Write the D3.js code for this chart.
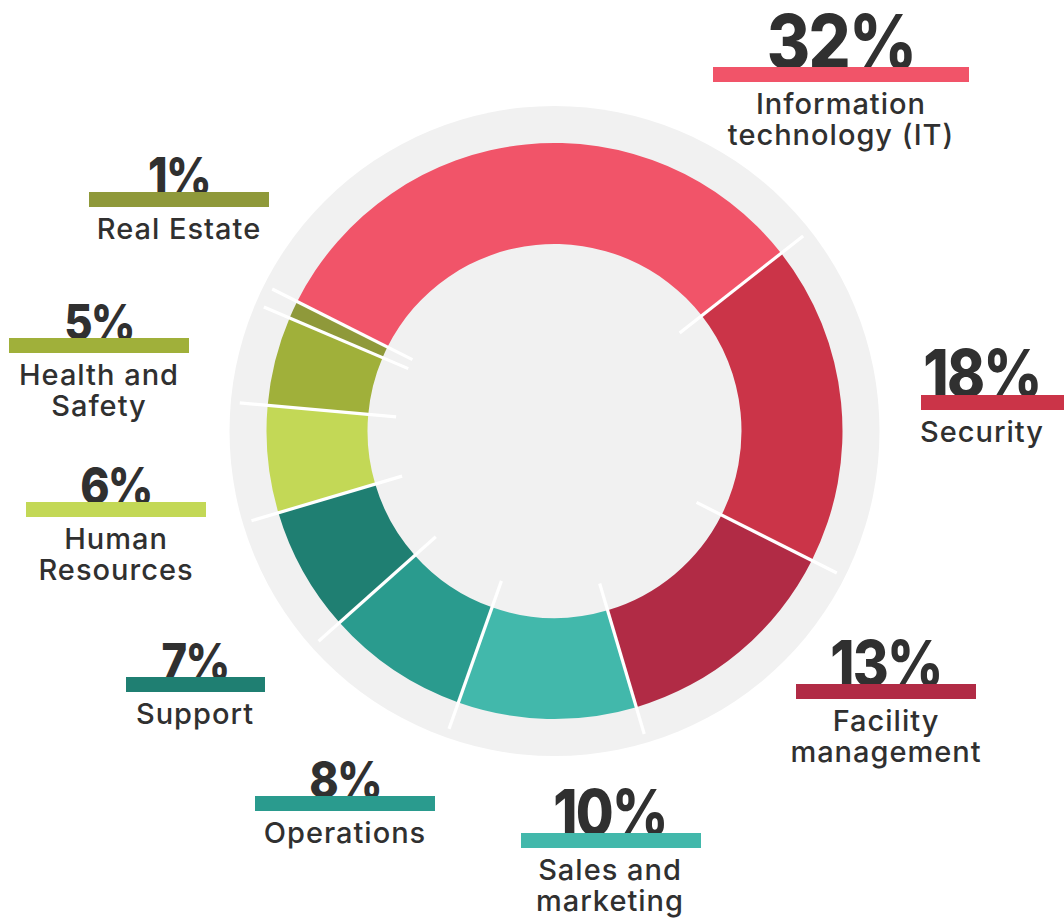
<!DOCTYPE html>
<html>
<head>
<meta charset="utf-8">
<script src="https://cdn.jsdelivr.net/npm/d3@7"></script>
<style>
  html, body { margin: 0; padding: 0; background: #ffffff; }
  svg { display: block; }
</style>
</head>
<body>
<svg id="chart" width="1064" height="922"></svg>
<script>
// ---- data ----
const categories = ["Information technology (IT)", "Security", "Facility management", "Sales and marketing", "Operations", "Support", "Human Resources", "Health and Safety", "Real Estate"];
const values = [32, 18, 13, 10, 8, 7, 6, 5, 1];
const labelLines = [["Information", "technology (IT)"], ["Security"], ["Facility", "management"], ["Sales and", "marketing"], ["Operations"], ["Support"], ["Human", "Resources"], ["Health and", "Safety"], ["Real Estate"]];
const colors = ["#f15469", "#cb3448", "#b12b45", "#42b8ab", "#2a9b8e", "#1f7f72", "#c3d856", "#a0b03a", "#8f993a"];

// ---- layout (positions / sizes) ----
const labelCx   = [841, 982, 886, 610, 345, 195, 116, 99, 179];
const barTop    = [67, 395, 684, 833, 796, 677, 502, 338, 192];
const barX0     = [713, 921, 796, 521, 255, 126, 26, 9, 89];
const barX1     = [969, 1080, 976, 701, 435, 265, 206, 189, 269];
const numSize   = [76, 66, 63, 63, 51, 50, 51, 50, 51];

const cx = 554.5, cy = 431;
const rBack = 325, rOuter = 288, rInner = 187;
const startDeg = -63.3;
const textColor = "#303030";

const svg = d3.select("#chart");
const g = svg.append("g").attr("transform", `translate(${cx},${cy})`);

// background disc
g.append("circle").attr("r", rBack).attr("fill", "#f1f1f1");

const start = startDeg * Math.PI / 180;
const pie = d3.pie().sort(null).value(d => d).startAngle(start).endAngle(start + 2 * Math.PI);
const arcs = pie(values);
const arc = d3.arc().innerRadius(rInner).outerRadius(rOuter);

g.selectAll("path.slice").data(arcs).join("path")
  .attr("class", "slice")
  .attr("d", arc)
  .attr("fill", (d, i) => colors[i]);

// separator lines
const rl1 = 159, rl2 = 316;
g.selectAll("line.sep").data(arcs).join("line")
  .attr("class", "sep")
  .attr("x1", d => Math.sin(d.startAngle) * rl1)
  .attr("y1", d => -Math.cos(d.startAngle) * rl1)
  .attr("x2", d => Math.sin(d.startAngle) * rl2)
  .attr("y2", d => -Math.cos(d.startAngle) * rl2)
  .attr("stroke", "#ffffff")
  .attr("stroke-width", 3.2);

// labels
const lab = svg.append("g");
values.forEach((v, i) => {
  lab.append("text")
    .attr("transform", `translate(${labelCx[i]},${barTop[i] + 2}) scale(0.87,1)`)
    .attr("text-anchor", "middle")
    .attr("font-family", "Inter, 'Open Sans', sans-serif")
    .attr("font-weight", 800)
    .attr("font-size", numSize[i])
    .attr("letter-spacing", -2)
    .attr("fill", textColor)
    .text(v + "%");
  lab.append("rect")
    .attr("x", barX0[i])
    .attr("y", barTop[i])
    .attr("width", barX1[i] - barX0[i])
    .attr("height", 15)
    .attr("fill", colors[i]);
  const t = lab.append("text")
    .attr("x", labelCx[i])
    .attr("y", barTop[i] + 47)
    .attr("text-anchor", "middle")
    .attr("font-family", "Inter, 'Open Sans', sans-serif")
    .attr("font-weight", 500)
    .attr("font-size", 29)
    .attr("letter-spacing", 1)
    .attr("fill", textColor);
  labelLines[i].forEach((line, j) => {
    t.append("tspan")
      .attr("x", labelCx[i])
      .attr("dy", j === 0 ? 0 : 31)
      .text(line);
  });
});
</script>
</body>
</html>
